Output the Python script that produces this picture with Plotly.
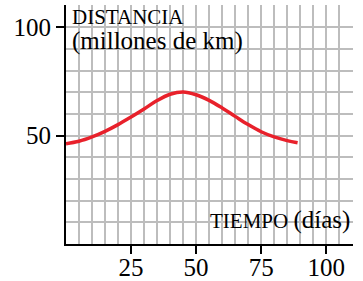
import plotly.graph_objects as go

dias = [0, 5, 10, 15, 20, 25, 30, 35, 40, 45, 50, 55, 60, 65, 70, 75, 80, 85, 89]
distancia = [46.3, 47.4, 49.4, 52.0, 55.1, 58.6, 62.3, 66.2, 69.1, 70.2, 68.9, 66.3, 62.8, 58.9, 55.1, 51.8, 49.4, 47.7, 46.7]
x_ticks = [25, 50, 75, 100]
y_ticks = [50, 100]

FONT = "Liberation Serif, Times New Roman, serif"
GRID = "#bdbdbd"

fig = go.Figure()
fig.add_trace(go.Scatter(x=dias, y=distancia, mode="lines",
                         line=dict(color="#e8212b", width=3.5, shape="spline"),
                         hoverinfo="skip"))

axis_common = dict(
    showline=True, linecolor="black", linewidth=2,
    ticks="outside", ticklen=8, tickwidth=2, tickcolor="black",
    showgrid=True, gridcolor=GRID, gridwidth=1.5, zeroline=False,
    tickfont=dict(family=FONT, size=25, color="black"),
    automargin=False,
)

fig.update_xaxes(range=[0, 110.3], tickmode="array", tickvals=x_ticks,
                 ticklabelstandoff=-8,
                 minor=dict(tickmode="linear", tick0=0, dtick=5, showgrid=True,
                            gridcolor=GRID, gridwidth=1.5, ticks=""),
                 **axis_common)
fig.update_yaxes(range=[0, 110.3], tickmode="array", tickvals=y_ticks,
                 minor=dict(tickmode="linear", tick0=0, dtick=10, showgrid=True,
                            gridcolor=GRID, gridwidth=1.5, ticks=""),
                 **axis_common)

fig.add_annotation(x=0, y=1, xref="paper", yref="paper", xanchor="left", yanchor="top",
                   xshift=4, yshift=2, showarrow=False,
                   text="DISTANCIA",
                   font=dict(family=FONT, size=21, color="black"))
fig.add_annotation(x=0, y=1, xref="paper", yref="paper", xanchor="left", yanchor="top",
                   xshift=4, yshift=-20, showarrow=False,
                   text="(millones de km)",
                   font=dict(family=FONT, size=25, color="black"))
fig.add_annotation(x=1, y=0, xref="paper", yref="paper", xanchor="right", yanchor="bottom",
                   xshift=-1, yshift=8, showarrow=False,
                   text="TIEMPO <span style='font-size:25px'>(días)</span>",
                   font=dict(family=FONT, size=21, color="black"))

fig.update_layout(width=363, height=281, margin=dict(l=66, r=10, t=5, b=37),
                  paper_bgcolor="white", plot_bgcolor="white", showlegend=False)

fig.write_html("out.html", config={"displayModeBar": False},
               post_script="document.body.style.margin='0';document.body.style.overflow='hidden';")
